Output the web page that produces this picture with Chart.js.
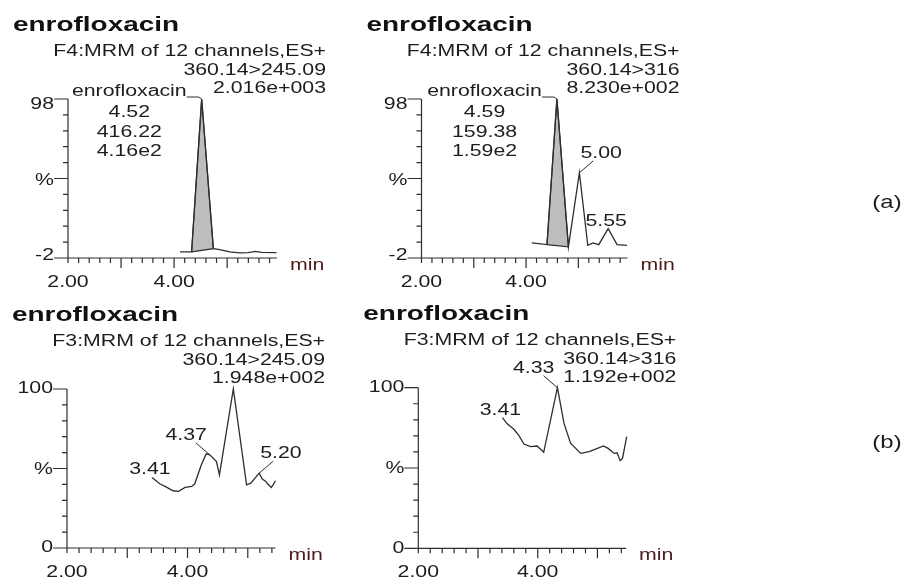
<!DOCTYPE html>
<html>
<head>
<meta charset="utf-8">
<script src="https://cdn.jsdelivr.net/npm/chart.js@4.4.0/dist/chart.umd.min.js"></script>
<style>
  body { margin: 0; background: #fff; }
  #wrap { position: relative; width: 906px; height: 578px; overflow: hidden; background: #fff; }
  #wrap canvas { position: absolute; }
</style>
</head>
<body>
<div id="wrap">
  <canvas id="panelA1" width="350" height="290" style="left:0;top:0"></canvas>
  <canvas id="panelA2" width="556" height="290" style="left:350px;top:0"></canvas>
  <canvas id="panelB1" width="350" height="288" style="left:0;top:290px"></canvas>
  <canvas id="panelB2" width="556" height="288" style="left:350px;top:290px"></canvas>
</div>
<script type="text/javascript">

    var compound = 'enrofloxacin'
    var figureParts = ['(a)', '(b)']
    var xTickValues = [2, 4]
    var xTickText = ['2.00', '4.00']
    var topYValues = [98, 48, -2]
    var topYText = ['98', '%', '-2']
    var bottomYValues = [100, 50, 0]
    var bottomYText = ['100', '%', '0']

    // (a) left: F4 360.14>245.09
    var a1Header = ['F4:MRM of 12 channels,ES+', '360.14>245.09', '2.016e+003']
    var a1Time = [4.11, 4.33, 4.52, 4.74, 4.86, 5.05, 5.24, 5.40, 5.53, 5.65, 5.93]
    var a1Pct = [1.8, 1.8, 98, 3.9, 3.3, 1.8, 1.2, 1.4, 2.2, 1.6, 1.4]
    var a1AreaTime = [4.33, 4.52, 4.74, 4.33]
    var a1AreaPct = [1.8, 98, 3.9, 1.8]
    var a1PeakInfo = ['4.52', '416.22', '4.16e2']

    // (a) right: F4 360.14>316
    var a2Header = ['F4:MRM of 12 channels,ES+', '360.14>316', '8.230e+002']
    var a2Time = [4.11, 4.40, 4.59, 4.81, 5.02, 5.18, 5.28, 5.39, 5.57, 5.74, 5.93]
    var a2Pct = [7.5, 6.4, 98, 5.0, 51.6, 6.0, 7.5, 6.4, 16.5, 6.4, 6.0]
    var a2AreaTime = [4.40, 4.59, 4.81, 4.40]
    var a2AreaPct = [6.4, 98, 5.0, 6.4]
    var a2PeakInfo = ['4.59', '159.38', '1.59e2']
    var a2Labels = ['5.00', '5.55']
    var a2LabelTime = [5.02, 5.57]
    var a2LabelPct = [51.6, 16.5]

    // (b) left: F3 360.14>245.09
    var b1Header = ['F3:MRM of 12 channels,ES+', '360.14>245.09', '1.948e+002']
    var b1Time = [3.41, 3.54, 3.65, 3.76, 3.85, 3.96, 4.07, 4.12, 4.23, 4.31, 4.37, 4.48, 4.53, 4.76, 4.98, 5.05, 5.19, 5.24, 5.30, 5.33, 5.39, 5.42, 5.46]
    var b1Pct = [44.4, 40.4, 38.3, 36.0, 35.6, 38.1, 38.7, 40.4, 52.3, 59.2, 58.6, 54.4, 46.0, 100, 39.7, 40.8, 47.1, 43.3, 41.8, 40.2, 38.1, 39.7, 42.3]
    var b1Labels = ['3.41', '4.37', '5.20']
    var b1LabelTime = [3.41, 4.37, 5.19]
    var b1LabelPct = [44.4, 58.6, 47.1]

    // (b) right: F3 360.14>316
    var b2Header = ['F3:MRM of 12 channels,ES+', '360.14>316', '1.192e+002']
    var b2Time = [3.41, 3.48, 3.60, 3.68, 3.77, 3.88, 3.99, 4.10, 4.33, 4.44, 4.55, 4.72, 4.86, 5.00, 5.10, 5.18, 5.28, 5.33, 5.38, 5.42, 5.49]
    var b2Pct = [81.3, 77.8, 74.1, 70.5, 64.9, 63.3, 63.7, 59.8, 100, 77.8, 65.4, 59.1, 60.2, 62.2, 63.7, 62.2, 59.1, 59.5, 54.6, 56.0, 69.5]
    var b2Labels = ['3.41', '4.33']
    var b2LabelTime = [3.41, 4.33]
    var b2LabelPct = [81.3, 100]

    var FONT = '"Liberation Sans", Arial, sans-serif'
    var STRETCH = 1.33
    var INK = '#1d1d1d'
    var LINE = '#2e2e2e'

    function toPoints(xs, ys) {
        return xs.map(function (x, i) { return { x: x, y: ys[i] } })
    }

    // text is drawn a bit wider than the font, like the scanned figure
    function txt(ctx, s, x, y, align, base, size, bold, color) {
        ctx.save()
        ctx.translate(x, y)
        ctx.scale(STRETCH, 1)
        ctx.font = (bold ? 'bold ' : '') + size + 'px ' + FONT
        ctx.textAlign = align
        ctx.textBaseline = base
        ctx.fillStyle = color || INK
        ctx.fillText(s, 0, 0)
        ctx.restore()
    }

    function txtWidth(ctx, s, size) {
        ctx.save()
        ctx.font = size + 'px ' + FONT
        var w = ctx.measureText(s).width * STRETCH
        ctx.restore()
        return w
    }

    function makeFrame(p) {
        return {
            id: 'panelFrame',
            afterDraw: function (chart) {
                var ctx = chart.ctx
                var xs = chart.scales.x
                var ys = chart.scales.y
                var a = chart.chartArea

                ctx.save()
                ctx.strokeStyle = LINE
                ctx.lineWidth = 1.2
                ctx.beginPath()
                ctx.moveTo(a.left, a.top)
                ctx.lineTo(a.left, a.bottom)
                ctx.lineTo(a.right, a.bottom)
                var mid = (ys.min + ys.max) / 2
                for (var v = ys.min; v <= ys.max + 0.001; v += 10) {
                    var py = ys.getPixelForValue(v)
                    var big = Math.abs(v - ys.min) < 0.001 || Math.abs(v - ys.max) < 0.001 || Math.abs(v - mid) < 0.001
                    ctx.moveTo(a.left - (big ? 14 : 5), py)
                    ctx.lineTo(a.left, py)
                }
                for (var i = 0; 2 + i * 0.2 <= xs.max + 0.001; i++) {
                    var px = xs.getPixelForValue(2 + i * 0.2)
                    ctx.moveTo(px, a.bottom)
                    ctx.lineTo(px, a.bottom + (i > 0 && i % 5 === 0 ? 10 : 5))
                }
                ctx.stroke()

                // axis texts
                p.yValues.forEach(function (v, i) {
                    txt(ctx, p.yText[i], a.left - 14, ys.getPixelForValue(v) + p.yShift[i], 'right', 'middle', 16)
                })
                xTickValues.forEach(function (v, i) {
                    txt(ctx, xTickText[i], xs.getPixelForValue(v), a.bottom + 29, 'center', 'alphabetic', 16)
                })
                txt(ctx, 'min', a.right + 13, a.bottom + 12, 'left', 'alphabetic', 16, false, '#4e1b1b')

                // header
                txt(ctx, compound, a.left - 55, a.top - 68, 'left', 'alphabetic', 21, true, '#111')
                txt(ctx, p.header[0], a.left + 258, a.top - 43, 'right', 'alphabetic', 16)
                txt(ctx, p.header[1], a.left + 258, a.top - 24, 'right', 'alphabetic', 16)
                txt(ctx, p.header[2], a.left + 258, a.top - 6, 'right', 'alphabetic', 16)

                // integrated peak: name, time, area, height
                if (p.peakInfo) {
                    var ax = xs.getPixelForValue(p.areaTime[1])
                    var ay = ys.getPixelForValue(p.areaPct[1])
                    var nw = txtWidth(ctx, compound, 16)
                    txt(ctx, compound, ax - 15, ay - 3, 'right', 'alphabetic', 16)
                    ctx.beginPath()
                    ctx.lineWidth = 1
                    ctx.moveTo(ax - 15, ay - 2)
                    ctx.lineTo(ax - 3, ay - 2)
                    ctx.lineTo(ax, ay)
                    ctx.stroke()
                    var cx = ax - 15 - nw / 2
                    p.peakInfo.forEach(function (s, i) {
                        txt(ctx, s, cx, ay + 18 + i * 19.5, 'center', 'alphabetic', 16)
                    })
                }

                // other peak labels
                (p.labels || []).forEach(function (s, i) {
                    var lx = xs.getPixelForValue(p.labelTime[i])
                    var ly = ys.getPixelForValue(p.labelPct[i])
                    var place = p.labelPlace[i]
                    ctx.beginPath()
                    ctx.lineWidth = 1
                    if (place === 'left') {
                        txt(ctx, s, lx - 3, ly - 15, 'right', 'alphabetic', 16)
                        ctx.moveTo(lx - 14, ly - 12)
                        ctx.lineTo(lx, ly)
                    } else if (place === 'right') {
                        txt(ctx, s, lx + 1, ly - 15, 'left', 'alphabetic', 16)
                        ctx.moveTo(lx + 14, ly - 12)
                        ctx.lineTo(lx, ly)
                    } else {
                        txt(ctx, s, lx - 2, ly - 3, 'center', 'alphabetic', 16)
                    }
                    ctx.stroke()
                })

                if (p.side) {
                    txt(ctx, p.side.text, p.side.x, p.side.y, 'center', 'middle', 18)
                }
                ctx.restore()
            }
        }
    }

    var panels = [
        { id: 'panelA1', pad: { left: 68, top: 99, right: 73, bottom: 32 }, xMax: 5.94, yMin: -2, yMax: 98,
          header: a1Header, time: a1Time, pct: a1Pct, areaTime: a1AreaTime, areaPct: a1AreaPct, peakInfo: a1PeakInfo,
          yValues: topYValues, yText: topYText, yShift: [6, 2, -2] },
        { id: 'panelA2', pad: { left: 71.5, top: 99, right: 278.5, bottom: 32 }, xMax: 5.94, yMin: -2, yMax: 98,
          header: a2Header, time: a2Time, pct: a2Pct, areaTime: a2AreaTime, areaPct: a2AreaPct, peakInfo: a2PeakInfo,
          labels: a2Labels, labelTime: a2LabelTime, labelPct: a2LabelPct, labelPlace: ['right', 'above'],
          yValues: topYValues, yText: topYText, yShift: [6, 2, -2],
          side: { text: figureParts[0], x: 537, y: 203 } },
        { id: 'panelB1', pad: { left: 67, top: 99, right: 74.5, bottom: 30 }, xMax: 5.46, yMin: 0, yMax: 100,
          header: b1Header, time: b1Time, pct: b1Pct,
          labels: b1Labels, labelTime: b1LabelTime, labelPct: b1LabelPct, labelPlace: ['above', 'left', 'right'],
          yValues: bottomYValues, yText: bottomYText, yShift: [0, 1, 0] },
        { id: 'panelB2', pad: { left: 68.3, top: 97.7, right: 279.9, bottom: 29.7 }, xMax: 5.48, yMin: 0, yMax: 100,
          header: b2Header, time: b2Time, pct: b2Pct,
          labels: b2Labels, labelTime: b2LabelTime, labelPct: b2LabelPct, labelPlace: ['above', 'left'],
          yValues: bottomYValues, yText: bottomYText, yShift: [0, 1, 0],
          side: { text: figureParts[1], x: 537, y: 153 } }
    ]

    panels.forEach(function (p) {
        var datasets = [{
            label: 'trace',
            data: toPoints(p.time, p.pct),
            borderColor: LINE,
            borderWidth: 1.3,
            fill: false,
            clip: false
        }]
        if (p.areaTime) {
            datasets.push({
                label: 'area',
                data: toPoints(p.areaTime, p.areaPct),
                borderColor: LINE,
                borderWidth: 1.2,
                backgroundColor: '#bdbdbd',
                fill: 'shape',
                clip: false
            })
        }
        new Chart(document.getElementById(p.id), {
            type: 'line',
            data: { datasets: datasets },
            options: {
                responsive: false,
                animation: false,
                devicePixelRatio: 1,
                layout: { padding: p.pad },
                elements: { point: { radius: 0 }, line: { tension: 0 } },
                plugins: { legend: { display: false }, tooltip: { enabled: false } },
                scales: {
                    x: { type: 'linear', min: 2, max: p.xMax, display: false },
                    y: { type: 'linear', min: p.yMin, max: p.yMax, display: false }
                }
            },
            plugins: [makeFrame(p)]
        })
    })

</script>
</body>
</html>
